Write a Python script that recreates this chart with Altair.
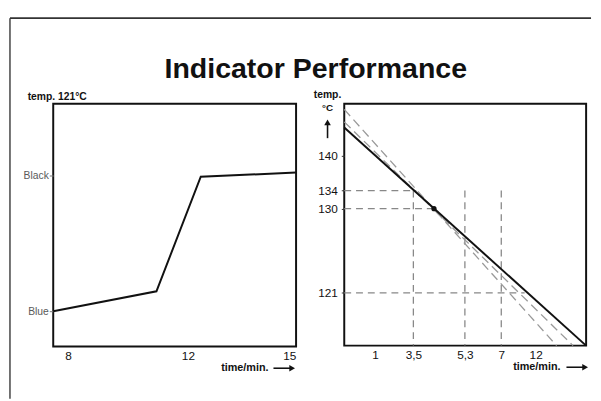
import altair as alt
import pandas as pd

FONT = "Liberation Sans"

# ---------------- data ----------------
# left panel: indicator colour change vs time at 121 °C
left_time = [7.5, 10.95, 12.38, 15.2]
left_level = [0.0, 0.147, 0.993, 1.024]
left_xticks = [8, 12, 15]
left_ytick_values = [0, 1]
left_ytick_labels = ["Blue", "Black"]

# right panel: temperature / time curves
curve_names = ["solid", "solid", "dashA", "dashA", "dashB", "dashB"]
curve_time = [0, 16, 0, 13.66, 0, 14.96]
curve_temp = [145.4, 110, 148.9, 110, 146.5, 110]
point_time = [4.22]
point_temp = [130]
ref_x1 = [0, 0, 0, 3.5, 5.3, 7]
ref_x2 = [3.6, 4.22, 10.4, 3.5, 5.3, 7]
ref_y1 = [134, 130, 121, 134, 134, 134]
ref_y2 = [134, 130, 121, 110, 110, 110]
right_xticks = [1, 3.5, 5.3, 7, 12]
right_yticks = [121, 130, 134, 140]

TITLE = "Indicator Performance"
LEFT_YTITLE = "temp. 121°C"
RIGHT_YTITLE = "temp."
RIGHT_YUNIT = "°C"
XTITLE = "time/min."

one = pd.DataFrame({"a": [0]})

def txt(s, x, y, size, bold=True, align="left", color="#111"):
    return alt.Chart(one).mark_text(
        font=FONT, fontSize=size, fontWeight="bold" if bold else "normal",
        align=align, baseline="alphabetic", color=color
    ).encode(x=alt.value(x), y=alt.value(y), text=alt.value(s))

def hrule(x1, x2, y, color="#111", w=1.5):
    return alt.Chart(one).mark_rule(color=color, strokeWidth=w).encode(
        x=alt.value(x1), x2=alt.value(x2), y=alt.value(y))

def vrule(x, y1, y2, color="#111", w=1.5):
    return alt.Chart(one).mark_rule(color=color, strokeWidth=w).encode(
        x=alt.value(x), y=alt.value(y1), y2=alt.value(y2))

def head(x, y, shape):
    return alt.Chart(one).mark_point(shape=shape, filled=True, size=45,
                                     color="#111", opacity=1).encode(
        x=alt.value(x), y=alt.value(y))

# ---------------- left panel ----------------
ldf = pd.DataFrame({"t": left_time, "v": left_level})
lx = alt.Scale(domain=[7.5, 8, 12, 15.2], range=[0, 15, 137, 247], nice=False, zero=False)
ly = alt.Scale(domain=[-0.261, 1.532], nice=False, zero=False)
lab_expr = " : ".join(
    [f"datum.value == {v} ? '{l}'" for v, l in zip(left_ytick_values, left_ytick_labels)]
) + " : ''"

left_line = alt.Chart(ldf).mark_line(color="#111", strokeWidth=2).encode(
    x=alt.X("t:Q", scale=lx, axis=alt.Axis(values=left_xticks, ticks=False, domain=False,
                                           labelPadding=4, labelFontSize=12, labelColor="#111",
                                           title=None, grid=False)),
    y=alt.Y("v:Q", scale=ly, axis=alt.Axis(values=left_ytick_values, labelExpr=lab_expr,
                                           domain=False, tickSize=4, tickColor="#777",
                                           labelColor="#5a5a5a", labelFontSize=10.5,
                                           labelPadding=1, title=None, grid=False)),
)

left = alt.layer(
    left_line,
    txt(TITLE, 267, -26.5, 29, align="center"),
    txt(LEFT_YTITLE, -26, -4, 10.5),
    txt(XTITLE, 219, 272, 11, align="right"),
    hrule(224, 241, 269, w=1.6),
    head(243, 269, "triangle-right"),
    vrule(-44, -87, 300, color="#444", w=1.5),
    hrule(-44, 547, -87, color="#333", w=1.8),
).properties(width=247, height=247)

# ---------------- right panel ----------------
cdf = pd.DataFrame({"name": curve_names, "t": curve_time, "T": curve_temp})
rdf = pd.DataFrame({"x1": ref_x1, "x2": ref_x2, "y1": ref_y1, "y2": ref_y2})
pdf = pd.DataFrame({"t": point_time, "T": point_temp})

rx = alt.Scale(domain=[0, 1, 3.5, 5.3, 7, 12, 16],
               range=[0, 31.3, 70.3, 122.7, 159.7, 194.7, 246], nice=False, zero=False)
ry = alt.Scale(domain=[110, 121, 130, 134, 140, 150],
               range=[246, 192.3, 106.7, 88.3, 52.7, 0], nice=False, zero=False)

xaxis_r = alt.Axis(values=right_xticks, ticks=False, domain=False, labelPadding=4,
                   labelFontSize=12, labelColor="#111", title=None, grid=False,
                   labelExpr="replace(format(datum.value, '~g'), '.', ',')")
yaxis_r = alt.Axis(values=right_yticks, tickSize=3, tickColor="#333", domain=False,
                   labelPadding=4, labelFontSize=12, labelColor="#111", title=None,
                   grid=False, format="d")

refs = alt.Chart(rdf).mark_rule(color="#888", strokeWidth=1.3, strokeDash=[7, 5]).encode(
    x=alt.X("x1:Q", scale=rx, axis=xaxis_r), x2="x2:Q",
    y=alt.Y("y1:Q", scale=ry, axis=yaxis_r), y2="y2:Q")

dashed = alt.Chart(cdf[cdf.name != "solid"]).mark_line(
    color="#999", strokeWidth=1.3, strokeDash=[9, 5]).encode(
    x=alt.X("t:Q", scale=rx), y=alt.Y("T:Q", scale=ry), detail="name:N")

solid = alt.Chart(cdf[cdf.name == "solid"]).mark_line(color="#111", strokeWidth=2).encode(
    x=alt.X("t:Q", scale=rx), y=alt.Y("T:Q", scale=ry))

dot = alt.Chart(pdf).mark_point(filled=True, size=28, color="#111", opacity=1).encode(
    x=alt.X("t:Q", scale=rx), y=alt.Y("T:Q", scale=ry))

right = alt.layer(
    refs, dashed, solid, dot,
    txt(RIGHT_YTITLE, -31, -6, 10.5),
    txt(RIGHT_YUNIT, -17, 7, 10, align="center"),
    vrule(-17, 35, 21, w=1.6),
    head(-17, 19, "triangle-up"),
    txt(XTITLE, 220, 271, 11, align="right"),
    hrule(226, 243, 268, w=1.6),
    head(245, 268, "triangle-right"),
).properties(width=246, height=246)

chart = alt.hconcat(left, right, spacing=49, bounds="flush").properties(
    padding={"left": 0, "top": 5, "right": 0, "bottom": 0}
).configure(font=FONT).configure_view(stroke="#111", strokeWidth=2).configure_axis(
    labelFont=FONT, grid=False)

chart.save("out.html", embed_options={"renderer": "svg", "actions": False})
